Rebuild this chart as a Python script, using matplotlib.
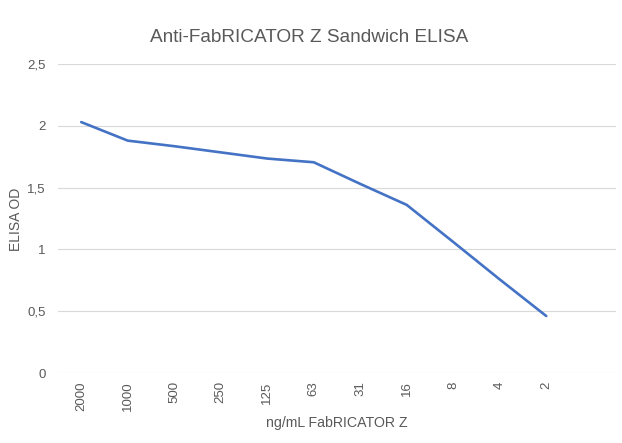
import matplotlib
matplotlib.use("Agg")
import matplotlib.pyplot as plt

plt.rcParams['font.family'] = ['Liberation Sans', 'DejaVu Sans']

categories = ["2000", "1000", "500", "250", "125", "63", "31", "16", "8", "4", "2", ""]
od_values = [2.03, 1.88, 1.835, 1.785, 1.735, 1.705, 1.53, 1.36, 1.06, 0.757, 0.461]
y_ticks = [0, 0.5, 1, 1.5, 2, 2.5]
y_tick_labels = ["0", "0,5", "1", "1,5", "2", "2,5"]

W, H = 622, 443
fig = plt.figure(figsize=(W / 100, H / 100), dpi=100)
ax = fig.add_axes([58 / W, 1 - 373 / H, (616 - 58) / W, (373 - 64) / H])

x = list(range(len(od_values)))
ax.plot(x, od_values, color='#4472C4', linewidth=1.9, solid_capstyle='round', zorder=3)

ax.set_xlim(-0.5, len(categories) - 0.5)
ax.set_ylim(0, 2.5)
ax.set_xticks(range(len(categories)))
ax.set_xticklabels(categories, rotation=90, fontsize=9.5, color='#595959')
ax.set_yticks(y_ticks)
ax.set_yticklabels(y_tick_labels, fontsize=9.5, color='#595959')
ax.tick_params(axis='both', length=0)
ax.tick_params(axis='x', pad=6)
ax.tick_params(axis='y', pad=9)
ax.grid(axis='y', color='#d9d9d9', linewidth=0.8)
ax.set_axisbelow(True)
for s in ax.spines.values():
    s.set_visible(False)

fig.text(309 / W, 1 - 38 / H, "Anti-FabRICATOR Z Sandwich ELISA", ha='center', va='center',
         fontsize=13.7, color='#595959')
fig.text(16 / W, 1 - 219 / H, "ELISA OD", ha='center', va='center', rotation=90,
         fontsize=10, color='#595959')
fig.text(337 / W, 1 - 423 / H, "ng/mL FabRICATOR Z", ha='center', va='center',
         fontsize=10.2, color='#595959')

fig.savefig("out.png", dpi=100)
